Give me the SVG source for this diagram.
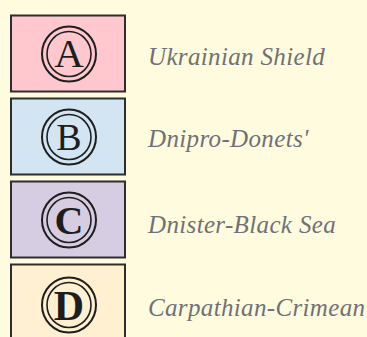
<svg xmlns="http://www.w3.org/2000/svg" width="367" height="337" viewBox="0 0 367 337">
<style>
.box{stroke:#2e2e2e;stroke-width:2}
.ring{fill:none;stroke:#1e1e1e}
.o{stroke-width:2}
.i{stroke-width:1.6}
.let{font-family:"Liberation Serif",serif;fill:#1e1e1e;text-anchor:middle}
.lab{font-family:"Liberation Serif",serif;font-style:italic;font-size:25px;letter-spacing:0.35px;fill:#717175}
</style>
<rect width="367" height="337" fill="#fffbdf"/>
<g id="nodeA">
<rect class="box" x="11" y="15.5" width="114" height="76" fill="#ffc8cf"/>
<ellipse class="ring o" cx="69" cy="54" rx="27" ry="27.5"/>
<ellipse class="ring i" cx="69" cy="54" rx="22" ry="22.5"/>
<text class="let" x="69" y="67" font-size="41">A</text>
<text class="lab" x="148" y="65">Ukrainian Shield</text>
</g>
<g id="nodeB">
<rect class="box" x="11" y="98.5" width="114" height="76" fill="#d3e5f3"/>
<ellipse class="ring o" cx="69" cy="137" rx="27" ry="27.5"/>
<ellipse class="ring i" cx="69" cy="137" rx="22" ry="22.5"/>
<text class="let" x="69" y="149.5" font-size="38">B</text>
<text class="lab" x="148" y="147">Dnipro-Donets'</text>
</g>
<g id="nodeC">
<rect class="box" x="11" y="181.5" width="114" height="76" fill="#d7cde2"/>
<ellipse class="ring o" cx="69" cy="220" rx="27" ry="27.5"/>
<ellipse class="ring i" cx="69" cy="220" rx="22" ry="22.5"/>
<text class="let" x="69" y="234" font-size="40" font-weight="bold">C</text>
<text class="lab" x="148" y="233">Dnister-Black Sea</text>
</g>
<g id="nodeD">
<rect class="box" x="11" y="264.5" width="114" height="76" fill="#fff0d2"/>
<ellipse class="ring o" cx="69" cy="305" rx="27" ry="27.5"/>
<ellipse class="ring i" cx="69" cy="305" rx="22" ry="22.5"/>
<text class="let" x="69" y="320" font-size="42" font-weight="bold">D</text>
<text class="lab" x="148" y="316">Carpathian-Crimean</text>
</g>
<g id="connectors"/>
</svg>
